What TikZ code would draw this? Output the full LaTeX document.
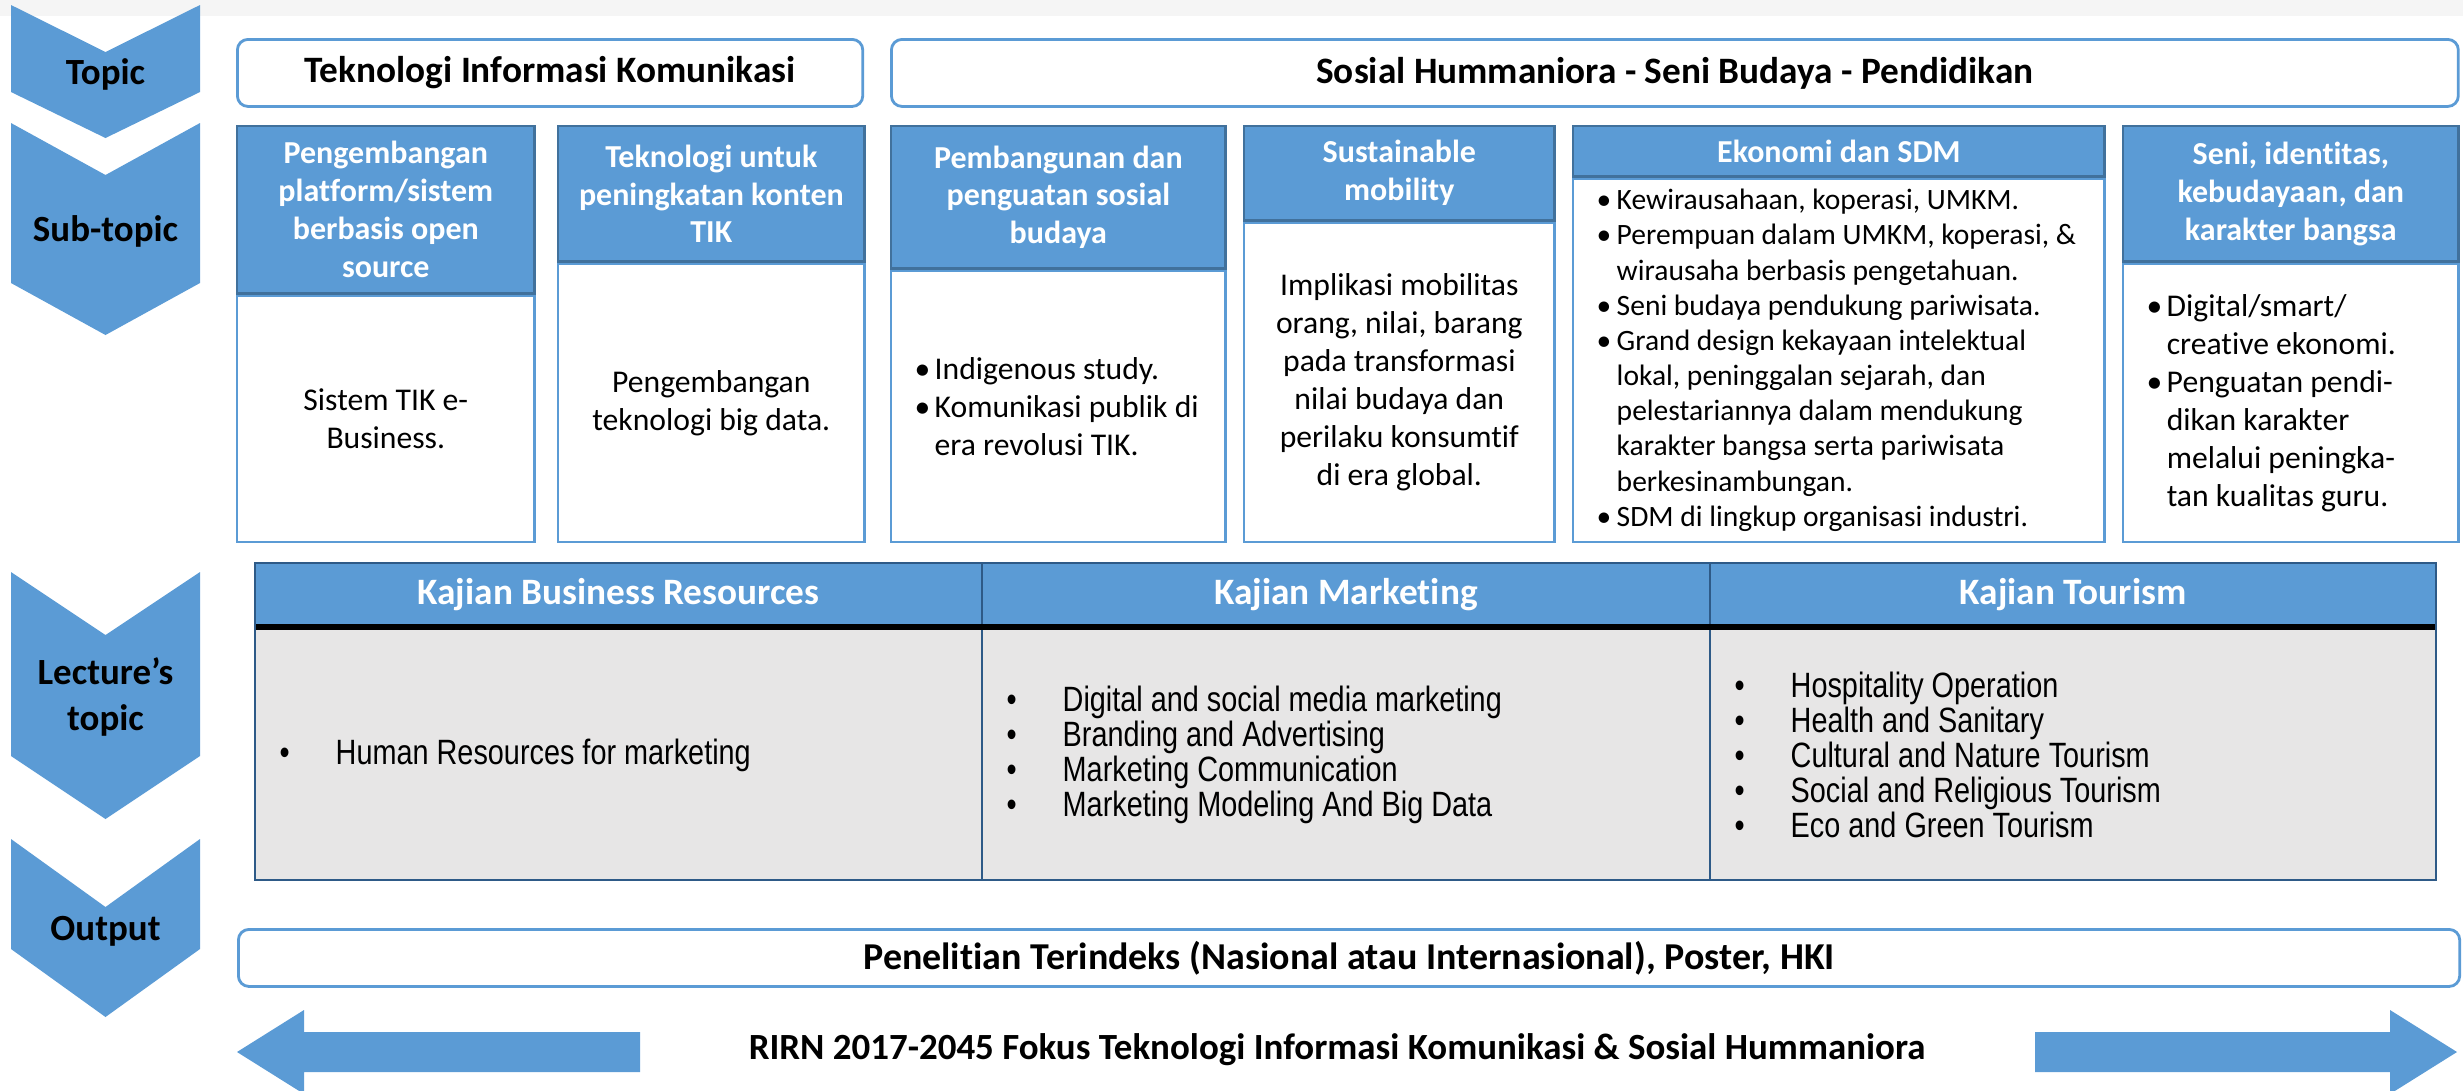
\documentclass[tikz,border=0pt]{standalone}
\usepackage{fontspec}
\setmainfont{Carlito}[Ligatures=NoCommon]
\newfontfamily\narrowfont[FakeStretch=0.82]{Liberation Sans}

\definecolor{officeblue}{HTML}{5B9BD5}
\definecolor{hdrline}{HTML}{41719C}
\definecolor{tblline}{HTML}{2E5A87}
\definecolor{cellgray}{HTML}{E7E6E6}
\definecolor{bandgray}{HTML}{F5F5F5}

\newcommand{\bul}{\makebox[0.2cm][l]{\textbullet}}
\newcommand{\ind}{\hspace*{0.2cm}}
\newcommand{\tbul}{\makebox[0.56cm][l]{\textbullet}}

\tikzset{
  chev/.style={fill=officeblue},
  chevlabel/.style={font=\bfseries\fontsize{10.5}{13}\selectfont, align=center},
  topicbox/.style={draw=officeblue, line width=0.8pt, rounded corners=3pt, fill=white,
    anchor=north west, inner sep=0pt, font=\bfseries\fontsize{10.6}{12}\selectfont},
  hdrbox/.style={draw=hdrline, line width=0.7pt, fill=officeblue, anchor=north west,
    inner sep=0pt, text=white, align=center, font=\bfseries\fontsize{9.1}{10.8}\selectfont},
  bodybox/.style={draw=officeblue, line width=0.7pt, fill=white, anchor=north west,
    inner sep=0pt, align=center, font=\fontsize{9}{10.8}\selectfont},
  listtext/.style={anchor=west, inner sep=0pt, align=left},
  tblhead/.style={text=white, font=\bfseries\fontsize{10.6}{12}\selectfont},
  tbllist/.style={anchor=west, inner sep=0pt, align=left, font=\narrowfont\fontsize{10}{10}\selectfont}
}

\begin{document}
\begin{tikzpicture}[x=0.01cm, y=-0.01cm]
  \useasboundingbox (0,0) rectangle (2463,1090);
  \fill[bandgray] (0,0) rectangle (2463,16);

  % left chevrons
  \foreach \t/\n/\s/\p in {5/52/92/138, 123/175/283/335, 572/635/756/819, 839/907/949/1017} {
    \fill[chev] (11,\t) -- (105.5,\n) -- (200,\t) -- (200,\s) -- (105.5,\p) -- (11,\s) -- cycle;
  }
  \node[chevlabel] (lbltopic) at (105.5,74) {Topic};
  \node[chevlabel] (lblsub) at (105.5,231) {Sub-topic};
  \node[chevlabel] (lbllecture) at (105.5,697) {Lecture’s\\topic};
  \node[chevlabel] (lbloutput) at (105.5,931) {Output};

  % topic row
  \node[topicbox, minimum width=6.25cm, minimum height=0.67cm] (tik) at (236,38) {Teknologi Informasi Komunikasi};
  \node[topicbox, minimum width=15.66cm, minimum height=0.67cm] (soshum) at (890,38) {Sosial Hummaniora - Seni Budaya - Pendidikan};

  % sub-topic columns
  \node[hdrbox, minimum width=2.97cm, minimum height=1.67cm] (hdr1) at (236,125) {Pengembangan\\platform/sistem\\berbasis open\\source};
  \node[bodybox, minimum width=2.97cm, minimum height=2.46cm] (body1) at (hdr1.south west) {Sistem TIK e-\\Business.};

  \node[hdrbox, minimum width=3.06cm, minimum height=1.35cm] (hdr2) at (557,125) {Teknologi untuk\\peningkatan konten\\TIK};
  \node[bodybox, minimum width=3.06cm, minimum height=2.78cm] (body2) at (hdr2.south west) {Pengembangan\\teknologi big data.};

  \node[hdrbox, minimum width=3.34cm, minimum height=1.42cm] (hdr3) at (890,125) {Pembangunan dan\\penguatan sosial\\budaya};
  \node[bodybox, minimum width=3.34cm, minimum height=2.71cm] (body3) at (hdr3.south west) {};
  \node[listtext, font=\fontsize{9}{10.8}\selectfont] (list3) at ([xshift=0.24cm]body3.west)
    {\bul Indigenous study.\\\bul Komunikasi publik di\\\ind era revolusi TIK.};

  \node[hdrbox, minimum width=3.10cm, minimum height=0.94cm] (hdr4) at (1243,125) {Sustainable\\mobility};
  \node[bodybox, minimum width=3.10cm, minimum height=3.19cm] (body4) at (hdr4.south west)
    {Implikasi mobilitas\\orang, nilai, barang\\pada transformasi\\nilai budaya dan\\perilaku konsumtif\\di era global.};

  \node[hdrbox, minimum width=5.31cm, minimum height=0.50cm] (hdr5) at (1572,125) {Ekonomi dan SDM};
  \node[bodybox, minimum width=5.31cm, minimum height=3.63cm] (body5) at (hdr5.south west) {};
  \node[listtext, font=\fontsize{8.4}{10}\selectfont] (list5) at ([xshift=0.24cm]body5.west)
    {\bul Kewirausahaan, koperasi, UMKM.\\
     \bul Perempuan dalam UMKM, koperasi, \&\\
     \ind wirausaha berbasis pengetahuan.\\
     \bul Seni budaya pendukung pariwisata.\\
     \bul Grand design kekayaan intelektual\\
     \ind lokal, peninggalan sejarah, dan\\
     \ind pelestariannya dalam mendukung\\
     \ind karakter bangsa serta pariwisata\\
     \ind berkesinambungan.\\
     \bul SDM di lingkup organisasi industri.};

  \node[hdrbox, minimum width=3.35cm, minimum height=1.35cm] (hdr6) at (2122,125) {Seni, identitas,\\kebudayaan, dan\\karakter bangsa};
  \node[bodybox, minimum width=3.35cm, minimum height=2.78cm] (body6) at (hdr6.south west) {};
  \node[listtext, font=\fontsize{9}{10.8}\selectfont] (list6) at ([xshift=0.24cm]body6.west)
    {\bul Digital/smart/\\\ind creative ekonomi.\\\bul Penguatan pendi-\\\ind dikan karakter\\\ind melalui peningka-\\\ind tan kualitas guru.};

  % lecture's topic table
  \foreach \xa/\xb/\title in {255/982/Kajian Business Resources, 982/1710/Kajian Marketing, 1710/2436/Kajian Tourism} {
    \fill[officeblue] (\xa,563) rectangle (\xb,627);
    \fill[cellgray] (\xa,627) rectangle (\xb,880);
    \node[tblhead] at ({(\xa+\xb)/2},595) {\title};
  }
  \draw[tblline, line width=0.4pt] (982,563) -- (982,880) (1710,563) -- (1710,880);
  \draw[line width=1.5pt] (255,627) -- (2436,627);
  \draw[tblline, line width=0.8pt] (255,563) rectangle (2436,880);

  \node[tbllist] (bizlist) at (279,755) {\tbul Human Resources for marketing};
  \node[tbllist] (mktlist) at (1006,755)
    {\tbul Digital and social media marketing\\
     \tbul Branding and Advertising\\
     \tbul Marketing Communication\\
     \tbul Marketing Modeling And Big Data};
  \node[tbllist] (tourlist) at (1734,755)
    {\tbul Hospitality Operation\\
     \tbul Health and Sanitary\\
     \tbul Cultural and Nature Tourism\\
     \tbul Social and Religious Tourism\\
     \tbul Eco and Green Tourism};

  % output
  \node[topicbox, minimum width=22.20cm, minimum height=0.57cm, font=\bfseries\fontsize{10.8}{12}\selectfont] (outbox) at (237,928) {Penelitian Terindeks (Nasional atau Internasional), Poster, HKI};

  % bottom arrows
  \fill[officeblue] (237,1052) -- (304,1010) -- (304,1032) -- (640,1032) -- (640,1072) -- (304,1072) -- (304,1094) -- cycle;
  \fill[officeblue] (2457,1052) -- (2390,1010) -- (2390,1032) -- (2035,1032) -- (2035,1072) -- (2390,1072) -- (2390,1094) -- cycle;
  \node[font=\bfseries\fontsize{10.5}{12}\selectfont] (rirn) at (1337,1050) {RIRN 2017-2045 Fokus Teknologi Informasi Komunikasi \& Sosial Hummaniora};
\end{tikzpicture}
\end{document}
